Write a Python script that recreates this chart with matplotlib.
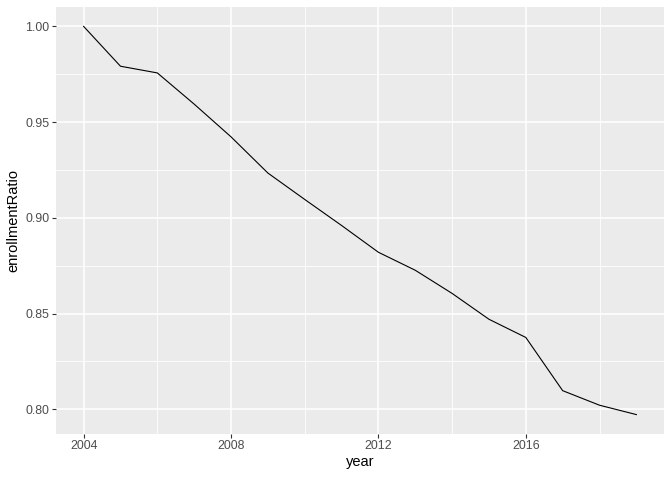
import matplotlib
matplotlib.use("Agg")
import matplotlib.pyplot as plt
import numpy as np

years = [2004, 2005, 2006, 2007, 2008, 2009, 2010, 2011, 2012, 2013,
         2014, 2015, 2016, 2017, 2018, 2019]
enrollmentRatio = [1.000, 0.9792, 0.9757, 0.9594, 0.9423, 0.9234, 0.9096, 0.8960,
                   0.8820, 0.8726, 0.8605, 0.8470, 0.8375, 0.8097, 0.8021, 0.7972]
x_ticks = [2004, 2008, 2012, 2016]
y_ticks = [0.80, 0.85, 0.90, 0.95, 1.00]

plt.rcParams['font.family'] = ['Liberation Sans', 'DejaVu Sans']

fig = plt.figure(figsize=(6.72, 4.8), dpi=100)
ax = fig.add_axes([56 / 672, 1 - 434 / 480, (664 - 56) / 672, (434 - 7) / 480])
ax.set_facecolor('#EBEBEB')
for s in ax.spines.values():
    s.set_visible(False)

# ggplot-style 5% expansion
xr = max(years) - min(years)
yr = max(enrollmentRatio) - min(enrollmentRatio)
ax.set_xlim(min(years) - 0.05 * xr, max(years) + 0.05 * xr)
ax.set_ylim(min(enrollmentRatio) - 0.05 * yr, max(enrollmentRatio) + 0.05 * yr)

ax.set_xticks(x_ticks)
ax.set_yticks(y_ticks)
ax.set_yticklabels(["%.2f" % v for v in y_ticks])
ax.set_xticks([2006, 2010, 2014, 2018], minor=True)
ax.set_yticks([0.825, 0.875, 0.925, 0.975], minor=True)

ax.grid(which='major', color='white', linewidth=1.1)
ax.grid(which='minor', color='white', linewidth=0.6)
ax.set_axisbelow(True)
ax.tick_params(which='major', length=2.6, width=0.8, color='#333333',
               labelcolor='#4D4D4D', labelsize=8.9, pad=2)
ax.tick_params(which='minor', length=0)

ax.plot(years, enrollmentRatio, color='black', linewidth=0.8)

ax.set_xlabel('year', fontsize=10.5, color='black', labelpad=2)
ax.set_ylabel('enrollmentRatio', fontsize=10.5, color='black', labelpad=4)

fig.savefig('out.png', dpi=100)
